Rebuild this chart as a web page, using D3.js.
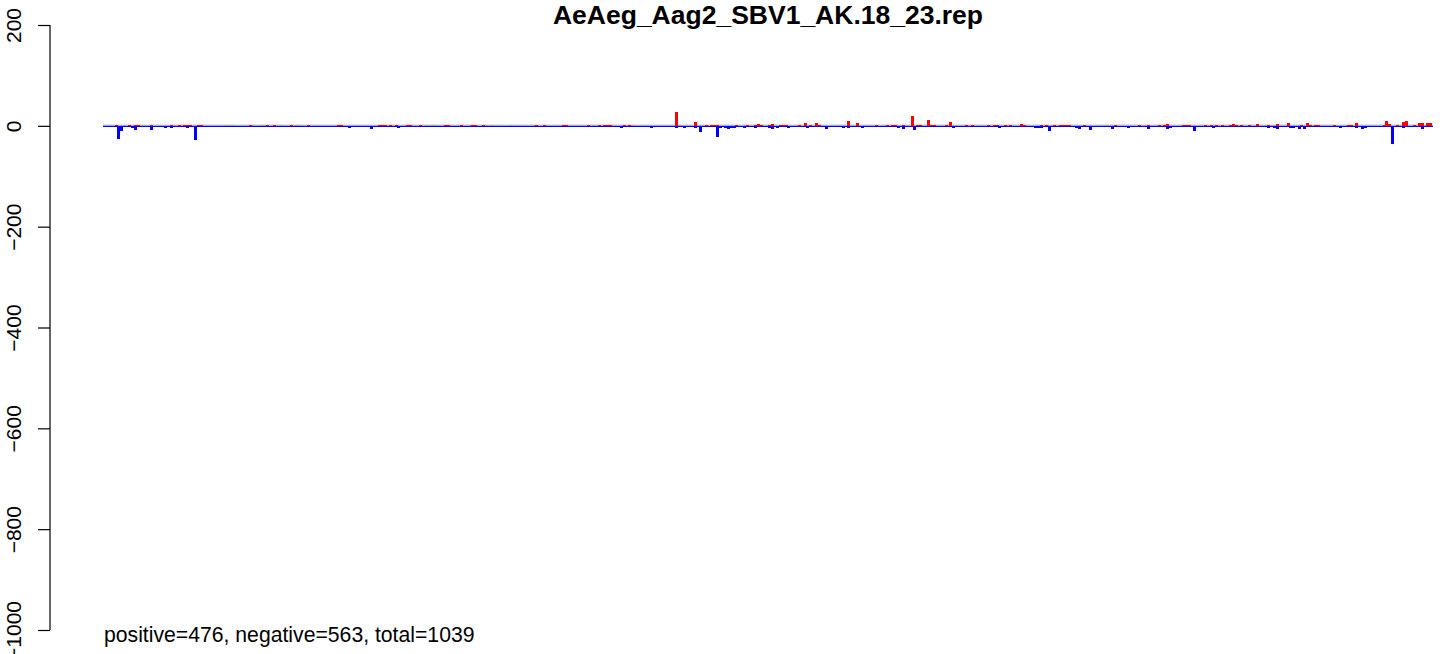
<!DOCTYPE html>
<html><head><meta charset="utf-8">
<script src="https://cdn.jsdelivr.net/npm/d3@7"></script>
<style>body{margin:0;background:#fff} text{font-family:"Liberation Sans",Arial,Helvetica,sans-serif;fill:#000}</style>
</head><body>
<svg id="chart" width="1452" height="654"></svg>
<script>
const chartTitle = "AeAeg_Aag2_SBV1_AK.18_23.rep";
const footnote = "positive=476, negative=563, total=1039";
const yTicks = [200, 0, -200, -400, -600, -800, -1000];
const positionLength = 1330;
const binWidth = 3;

// positive (sense) bins
const posBins = [12,25,31,34,47,67,75,80,83,86,94,97,146,163,170,187,204,234,237,
  275,278,281,286,292,303,306,316,341,344,357,368,371,379,432,440,459,462,484,495,500,503,506,520,525,
  572,591,602,607,610,613,632,643,651,654,657,665,668,676,679,682,695,701,706,712,715,744,753,772,783,788,791,799,
  808,813,816,824,827,830,842,846,862,868,884,890,893,901,906,917,920,937,942,950,956,959,962,965,980,1011,1035,1044,1055,1060,1063,
  1079,1082,1085,1101,1107,1112,1118,1126,1129,1132,1137,1145,1153,1164,1173,1184,1197,1203,1206,1211,1214,1230,1244,1247,1252,1280,1282,1285,1293,1299,1302,1310,1315,1318,1323,1326];
const posValues = [2,2,2,2,2,2,2,2,2,2,2,2,1,1,1,1,1,1,1,
  2,1,1,2,2,1,1,1,1,1,1,1,1,1,2,1,1,1,1,1,1,1,2,1,2,
  28,8,2,1,2,2,2,2,2,4,2,2,4,2,2,2,2,6,2,6,2,10,6,2,2,2,2,2,
  20,2,2,12,2,2,1,8,2,2,2,2,2,2,1,4,2,2,2,2,2,2,2,2,2,2,2,2,2,2,4,
  2,2,2,2,1,2,2,2,4,2,2,2,4,2,4,6,2,6,2,2,2,2,2,2,6,2,10,4,2,8,10,2,6,6,6,6];

// negative (antisense) bins
const negBins = [14,17,28,31,47,61,67,83,91,245,267,294,517,547,572,580,591,596,613,616,621,624,627,630,640,651,665,668,673,684,703,722,739,744,758,794,799,
  810,849,895,931,934,937,945,972,975,986,1008,1024,1044,1063,1066,
  1090,1109,1164,1170,1173,1186,1189,1195,1200,1236,1252,1258,1261,1288,1299,1318];
const negValues = [-26,-11,-4,-8,-8,-4,-4,-4,-28,-4,-6,-4,-4,-4,-4,-4,-4,-12,-22,-4,-4,-6,-4,-4,-4,-4,-4,-6,-4,-4,-4,-6,-4,-4,-4,-4,-6,
  -8,-4,-4,-4,-4,-4,-11,-4,-6,-8,-6,-4,-6,-6,-4,
  -10,-4,-4,-4,-6,-4,-4,-6,-6,-4,-4,-6,-4,-37,-4,-6];

// other (grey) bins lying on the baseline
const otherBins = [122,125,128,149,157,160,177,192,195,322,328,331,366,382,388,407,429,489,528,575,868,1003];
const otherValues = [1,1,1,1,1,1,1,1,1,1,1,1,1,1,1,1,1,1,1,1,1,1];

const svg = d3.select("#chart");
const x = d3.scaleLinear().domain([0, positionLength]).range([103, 1433]);
const y = d3.scaleLinear().domain([-1000, 200]).range([630, 25]);
const y0 = y(0);

// baselines
svg.append("line").attr("x1", x(0)).attr("x2", x(positionLength))
  .attr("y1", y0 - 0.8).attr("y2", y0 - 0.8).attr("stroke", "#c4c4c4").attr("stroke-width", 1);
svg.append("line").attr("x1", x(0)).attr("x2", x(positionLength))
  .attr("y1", y0 + 0.6).attr("y2", y0 + 0.6).attr("stroke", "#0000ff").attr("stroke-width", 1.3);

function bars(bins, vals, color) {
  svg.append("g").attr("shape-rendering", "crispEdges").selectAll("rect")
    .data(bins.map((b, i) => ({b, v: vals[i]})))
    .join("rect")
    .attr("x", d => x(d.b))
    .attr("width", d => x(d.b + binWidth) - x(d.b))
    .attr("y", d => Math.min(y(d.v), y0))
    .attr("height", d => Math.max(1, Math.abs(y(d.v) - y0)))
    .attr("fill", color);
}
bars(negBins, negValues, "#0000ff");
bars(otherBins, otherValues, "#a0a0a0");
bars(posBins, posValues, "#ff0000");

// y axis
const axis = d3.axisLeft(y).tickValues(yTicks).tickSize(12).tickFormat(d => d3.format("d")(d).replace("-", "\u2212"));
const ga = svg.append("g").attr("transform", "translate(50,0)").call(axis);
ga.select(".domain").attr("stroke", "#000").attr("stroke-width", 1.2).attr("d", `M0,${y(200)}V${y(-1000)}`);
ga.selectAll(".tick line").attr("stroke", "#000").attr("stroke-width", 1.2);
ga.selectAll(".tick text")
  .attr("font-size", 21)
  .attr("text-anchor", "middle")
  .attr("x", null).attr("dy", null)
  .attr("transform", "translate(-29,0) rotate(-90)")
  .attr("y", 0);

// title
svg.append("text").attr("x", 768).attr("y", 24).attr("text-anchor", "middle")
  .attr("font-size", 26.5).attr("font-weight", "bold").text(chartTitle);

// footnote
svg.append("text").attr("x", 104).attr("y", 642).attr("font-size", 21.2).text(footnote);
</script>
</body></html>
